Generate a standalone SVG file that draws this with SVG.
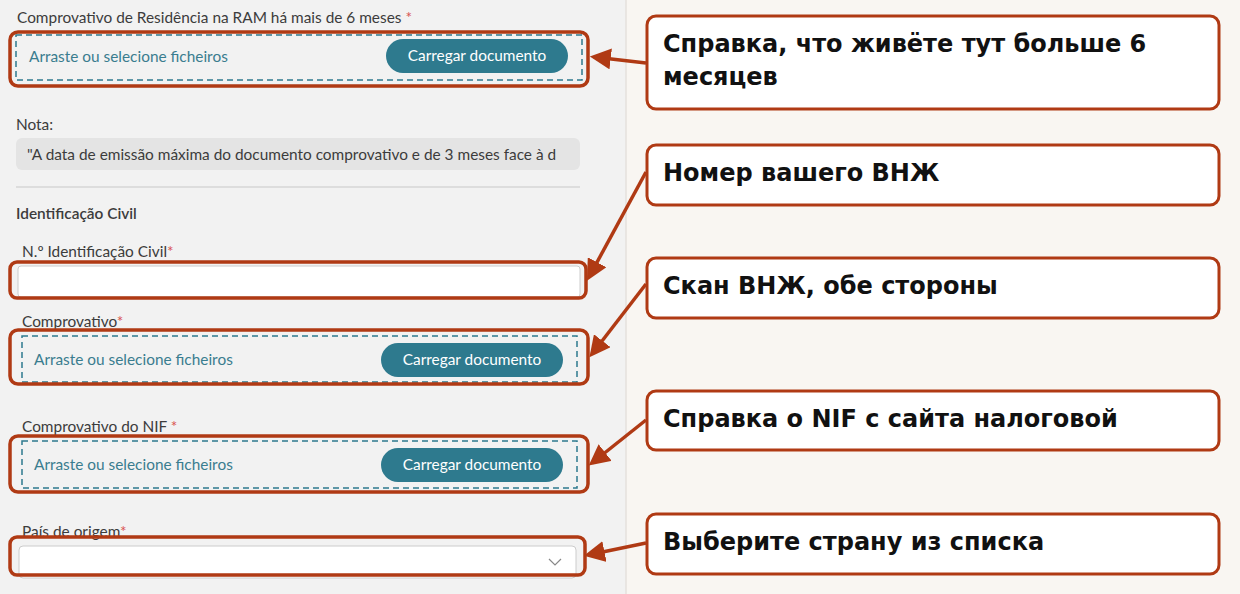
<svg xmlns="http://www.w3.org/2000/svg" width="1240" height="594" viewBox="0 0 1240 594">
<defs>
<style>
.f{font-family:Lato,"Noto Sans",sans-serif;font-size:15.4px;fill:#3c3c3c}
.ph{font-family:Lato,"Noto Sans",sans-serif;font-size:15.4px;fill:#3a7d8f}
.bt{font-family:Lato,"Noto Sans",sans-serif;font-size:15.4px;fill:#fff;text-anchor:middle}
.ast{fill:#d9534f}
.dash{fill:none;stroke:#2e7a8e;stroke-width:1.5;stroke-dasharray:6 4}
.btn{fill:#2e7a8e}
.hl{fill:none;stroke:#b03a14;stroke-width:3.5}
.co{fill:#fff;stroke:#b03a14;stroke-width:3}
.ct{font-family:"DejaVu Sans",sans-serif;font-weight:bold;font-size:24px;fill:#111}
.ar{stroke:#b03a14;stroke-width:3.5;fill:none;marker-end:url(#ah)}
</style>
<marker id="ah" viewBox="0 0 10 10" refX="8" refY="5" markerWidth="6" markerHeight="6" orient="auto"><path d="M0,0 L10,5 L0,10 z" fill="#b03a14"/></marker>
</defs>
<rect x="0" y="0" width="626" height="594" fill="#f2f2f2"/>
<rect x="626" y="0" width="614" height="594" fill="#f9f6f2"/>
<line x1="626" y1="0" x2="626" y2="594" stroke="#e4e0dc" stroke-width="1.5"/>
<g id="form">
<text class="f" x="17" y="23">Comprovativo de Residência na RAM há mais de 6 meses <tspan class="ast">*</tspan></text>
<rect class="dash" x="16" y="35" width="566" height="45"/>
<text class="ph" x="29" y="62">Arraste ou selecione ficheiros</text>
<rect class="btn" x="386" y="39" width="182" height="34" rx="17"/>
<text class="bt" x="477" y="61">Carregar documento</text>
<text class="f" x="16" y="130">Nota:</text>
<rect x="16" y="138" width="564" height="32" rx="6" fill="#e4e4e4"/>
<text class="f" x="27" y="160">"A data de emissão máxima do documento comprovativo e de 3 meses face à d</text>
<line x1="16" y1="187" x2="580" y2="187" stroke="#d6d6d6" stroke-width="1.5"/>
<text class="f" x="16" y="219" style="font-weight:600">Identificação Civil</text>
<text class="f" x="22" y="257">N.º Identificação Civil<tspan class="ast">*</tspan></text>
<rect x="18" y="266" width="562" height="31" rx="3" fill="#fff" stroke="#ccc"/>
<text class="f" x="22" y="327">Comprovativo<tspan class="ast">*</tspan></text>
<rect class="dash" x="22" y="336" width="555" height="46"/>
<text class="ph" x="34" y="365">Arraste ou selecione ficheiros</text>
<rect class="btn" x="381" y="343" width="182" height="34" rx="17"/>
<text class="bt" x="472" y="365">Carregar documento</text>
<text class="f" x="22" y="432">Comprovativo do NIF  <tspan class="ast">*</tspan></text>
<rect class="dash" x="22" y="441" width="555" height="47"/>
<text class="ph" x="34" y="470">Arraste ou selecione ficheiros</text>
<rect class="btn" x="381" y="448" width="182" height="34" rx="17"/>
<text class="bt" x="472" y="470">Carregar documento</text>
<text class="f" x="22" y="537">País de origem<tspan class="ast">*</tspan></text>
<rect x="19" y="546" width="557" height="32" rx="4" fill="#fff" stroke="#ccc"/>
<path d="M549,559 l6,6 l6,-6" fill="none" stroke="#888" stroke-width="1.2"/>
</g>
<g id="highlights">
<rect class="hl" x="10" y="32" width="578" height="54" rx="8"/>
<rect class="hl" x="10" y="262" width="576" height="36" rx="7"/>
<rect class="hl" x="10" y="330" width="578" height="54" rx="8"/>
<rect class="hl" x="10" y="436" width="578" height="56" rx="8"/>
<rect class="hl" x="10" y="537" width="575" height="38" rx="7"/>
</g>
<g id="connectors">
<line class="ar" x1="646" y1="63" x2="594" y2="57"/>
<line class="ar" x1="646" y1="172" x2="589" y2="277"/>
<line class="ar" x1="646" y1="284" x2="592" y2="354"/>
<line class="ar" x1="646" y1="420" x2="592" y2="463"/>
<line class="ar" x1="646" y1="543" x2="588" y2="555"/>
</g>
<g id="c1"><rect class="co" x="647" y="16" width="572" height="93" rx="9"/><text class="ct" x="663" y="52">Справка, что живёте тут больше 6</text><text class="ct" x="663" y="85">месяцев</text></g>
<g id="c2"><rect class="co" x="647" y="145" width="572" height="60" rx="9"/><text class="ct" x="663" y="181">Номер вашего ВНЖ</text></g>
<g id="c3"><rect class="co" x="647" y="258" width="572" height="60" rx="9"/><text class="ct" x="663" y="294">Скан ВНЖ, обе стороны</text></g>
<g id="c4"><rect class="co" x="647" y="391" width="572" height="59" rx="9"/><text class="ct" x="663" y="427">Справка о NIF с сайта налоговой</text></g>
<g id="c5"><rect class="co" x="647" y="514" width="572" height="60" rx="9"/><text class="ct" x="663" y="550">Выберите страну из списка</text></g>
</svg>
